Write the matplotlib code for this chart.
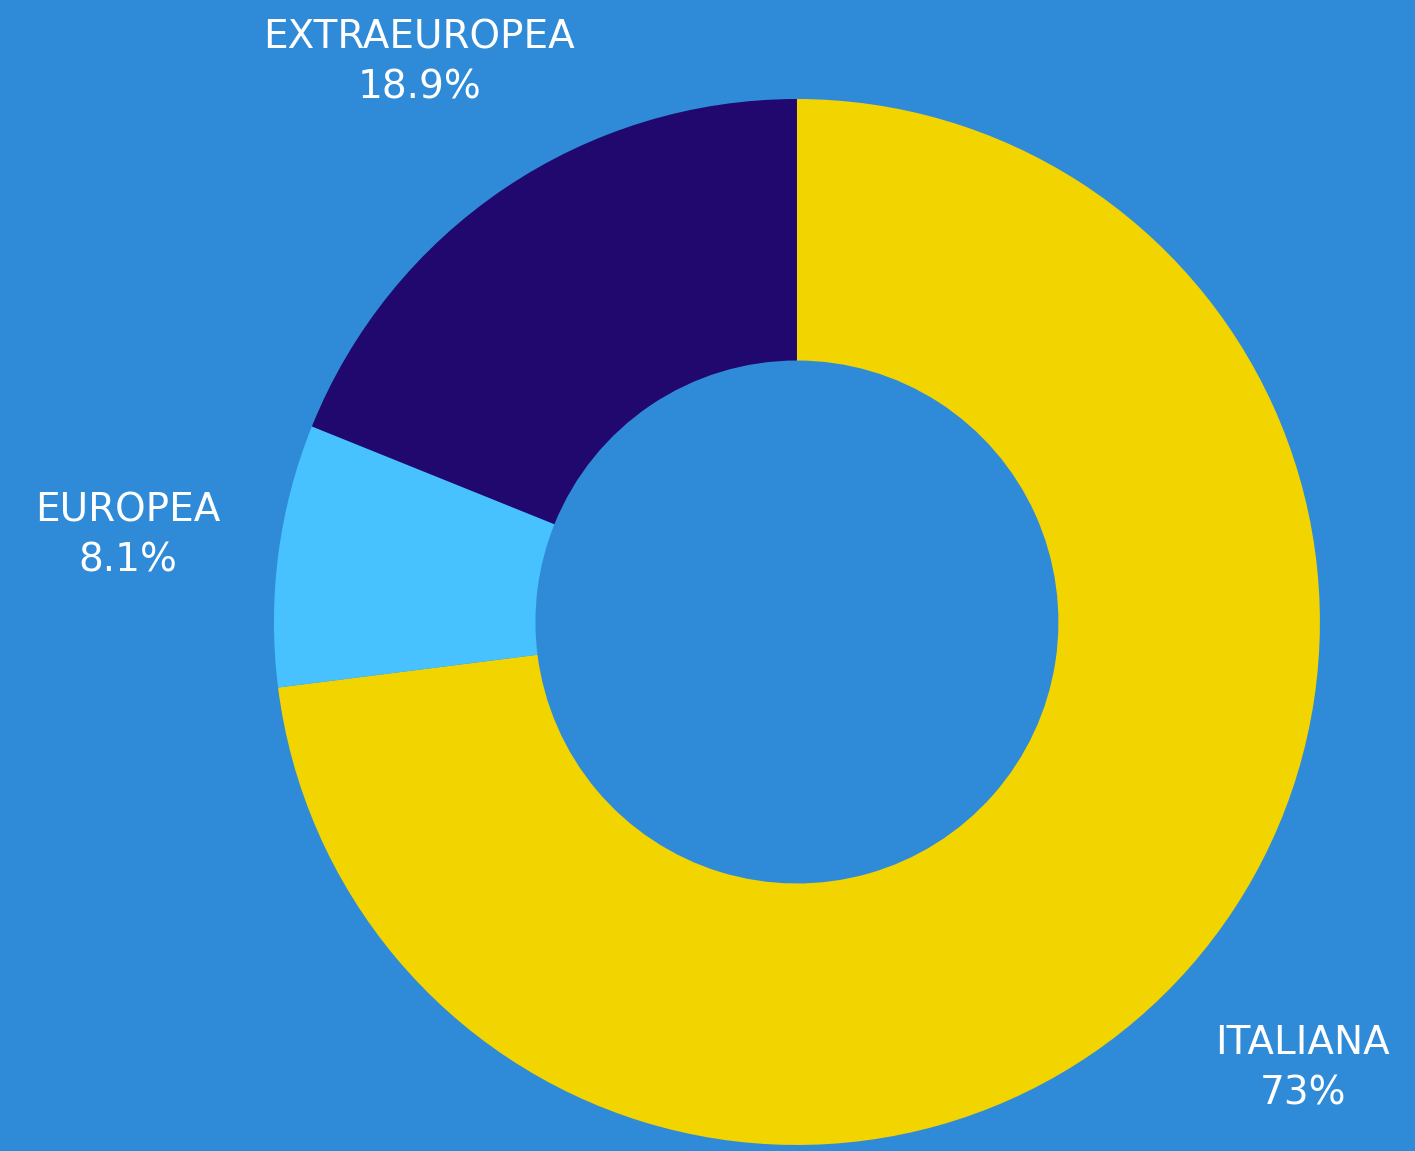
import matplotlib.pyplot as plt

# share of people by nationality
categories = ['ITALIANA', 'EUROPEA', 'EXTRAEUROPEA']
shares = [73, 8.1, 18.9]
pct_labels = ['73%', '8.1%', '18.9%']
colors = ['#F2D400', '#48C2FF', '#20086E']
bg = '#2F8BD8'

fig = plt.figure(figsize=(14.15, 11.51), dpi=100, facecolor=bg)
ax = fig.add_axes([0.1936, 0.0052, 0.7392, 0.9088])
ax.set_facecolor(bg)

labels = ['{}\n{}'.format(c, p) for c, p in zip(categories, pct_labels)]
wedges, texts = ax.pie(shares, colors=colors, startangle=90, counterclock=False,
                       radius=1, labels=labels, labeldistance=1.29,
                       wedgeprops={'width': 0.5, 'linewidth': 0},
                       textprops={'color': 'white', 'fontsize': 28,
                                  'family': 'DejaVu Sans', 'weight': 'normal',
                                  'linespacing': 1.4})
for t in texts:
    t.set_horizontalalignment('center')
    t.set_verticalalignment('center')

ax.set_xlim(-1, 1)
ax.set_ylim(-1, 1)
ax.set_aspect('equal')
ax.axis('off')

fig.savefig('out.png', facecolor=bg)
